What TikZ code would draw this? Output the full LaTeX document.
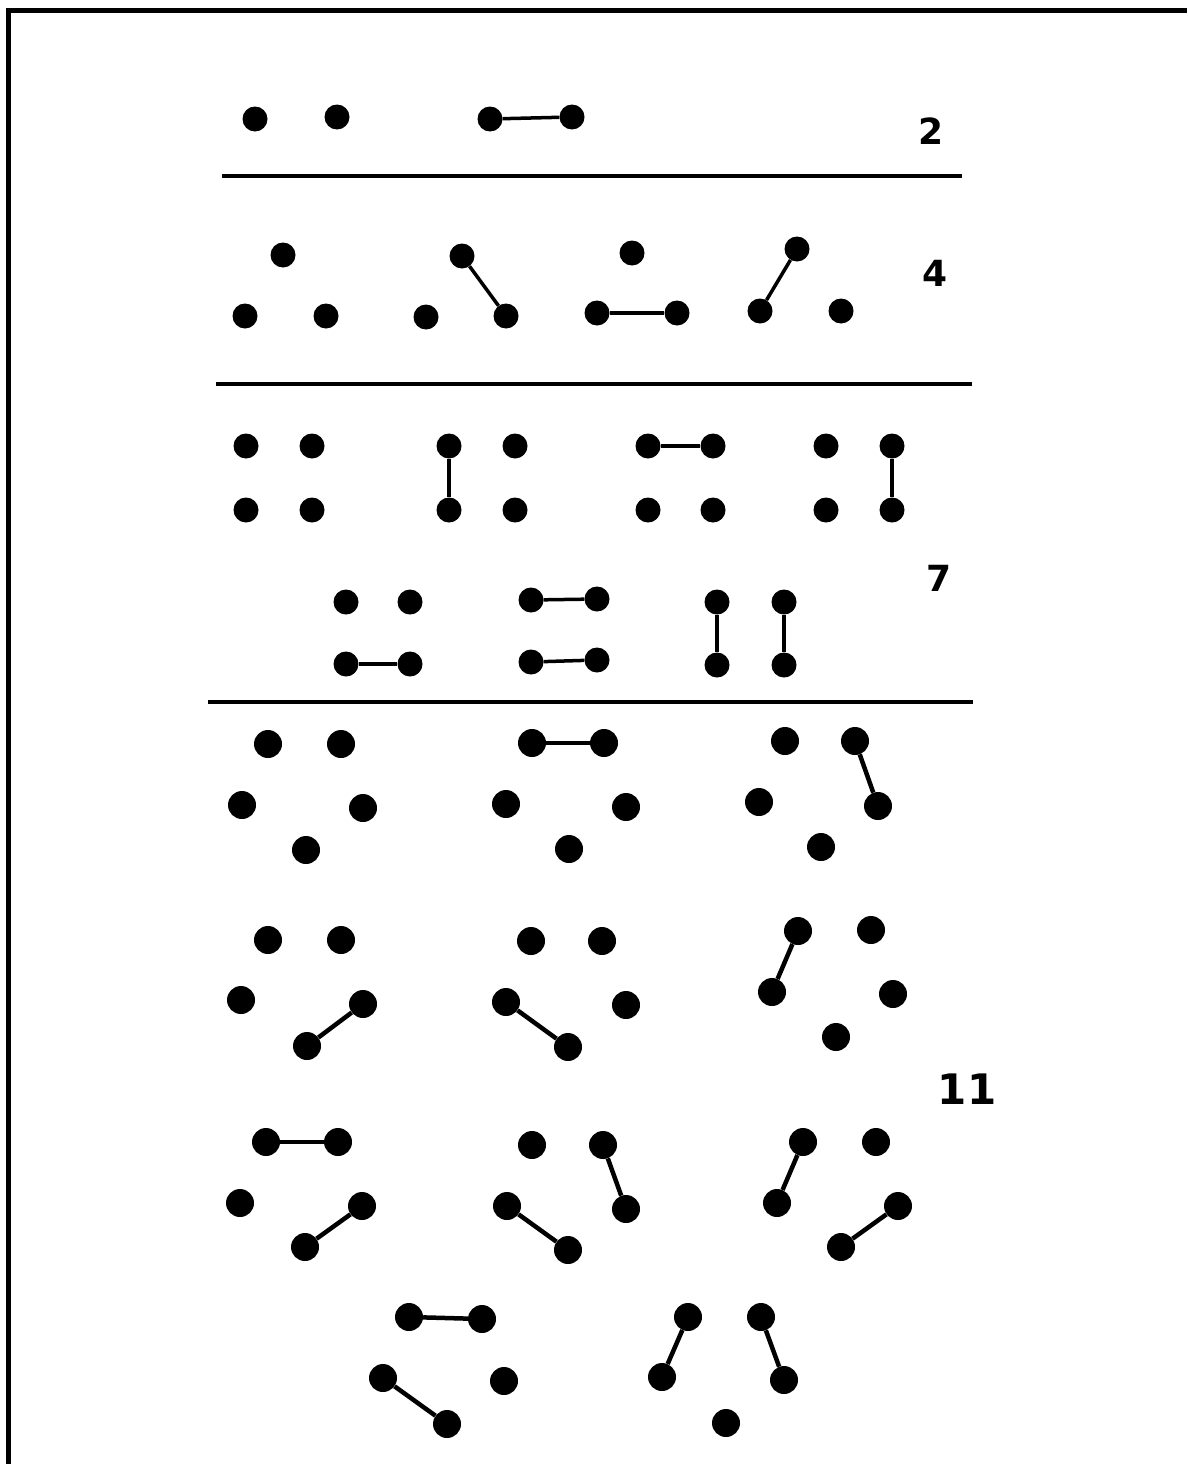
\documentclass[tikz,border=0pt]{standalone}
\usepackage{fontspec}
\setmainfont{DejaVu Sans}
\begin{document}
\begin{tikzpicture}[x=1pt,y=-1pt,
  dot/.style={circle,fill=black,inner sep=0pt,minimum size=25pt},
  bigdot/.style={circle,fill=black,inner sep=0pt,minimum size=28pt},
  edge/.style={line width=3.5pt},
  bigedge/.style={line width=4.5pt},
  rule/.style={line width=3.5pt},
  frame/.style={line width=5pt},
  lbl/.style={font=\fontsize{36}{40}\selectfont\bfseries,inner sep=0pt},
  biglbl/.style={font=\fontsize{42}{46}\selectfont\bfseries,inner sep=0pt}]
\useasboundingbox (0,0) rectangle (1187,1464);
% frame (top and left only)
\coordinate (fa) at (8,1464);
\coordinate (fb) at (8,11);
\coordinate (fc) at (1187,11);
\draw[frame] (fa) -- (fb) -- (fc);
% separators
\coordinate (s1a) at (222,176); \coordinate (s1b) at (962,176);
\coordinate (s2a) at (216,384); \coordinate (s2b) at (972,384);
\coordinate (s3a) at (208,702); \coordinate (s3b) at (973,702);
\draw[rule] (s1a) -- (s1b);
\draw[rule] (s2a) -- (s2b);
\draw[rule] (s3a) -- (s3b);
% labels
\node[lbl] (l2) at (931,131) {2};
\node[lbl] (l4) at (935,273) {4};
\node[lbl] (l7) at (939,578) {7};
\node[biglbl] (l11) at (967,1089) {11};
% row 1
\node[dot] (a1) at (255,119) {};
\node[dot] (a2) at (337,117) {};
\node[dot] (a3) at (490,119) {};
\node[dot] (a4) at (572,117) {};
\draw[edge] (a3) -- (a4);
% row 2
\node[dot] (b1) at (283,255) {};
\node[dot] (b2) at (245,316) {};
\node[dot] (b3) at (326,316) {};
\node[dot] (b4) at (462,256) {};
\node[dot] (b5) at (426,317) {};
\node[dot] (b6) at (506,316) {};
\draw[edge] (b4) -- (b6);
\node[dot] (b7) at (632,253) {};
\node[dot] (b8) at (597,313) {};
\node[dot] (b9) at (677,313) {};
\draw[edge] (b8) -- (b9);
\node[dot] (b10) at (797,249) {};
\node[dot] (b11) at (760,311) {};
\node[dot] (b12) at (841,311) {};
\draw[edge] (b10) -- (b11);
% row 3
\node[dot] (c1) at (246,446) {};
\node[dot] (c2) at (312,446) {};
\node[dot] (c3) at (246,510) {};
\node[dot] (c4) at (312,510) {};
\node[dot] (c5) at (449,446) {};
\node[dot] (c6) at (449,510) {};
\node[dot] (c7) at (515,446) {};
\node[dot] (c8) at (515,510) {};
\draw[edge] (c5) -- (c6);
\node[dot] (c9) at (648,446) {};
\node[dot] (c10) at (713,446) {};
\node[dot] (c11) at (648,510) {};
\node[dot] (c12) at (713,510) {};
\draw[edge] (c9) -- (c10);
\node[dot] (c13) at (826,446) {};
\node[dot] (c14) at (826,510) {};
\node[dot] (c15) at (892,446) {};
\node[dot] (c16) at (892,510) {};
\draw[edge] (c15) -- (c16);
\node[dot] (d1) at (346,602) {};
\node[dot] (d2) at (410,602) {};
\node[dot] (d3) at (346,664) {};
\node[dot] (d4) at (410,664) {};
\draw[edge] (d3) -- (d4);
\node[dot] (d5) at (531,600) {};
\node[dot] (d6) at (597,599) {};
\node[dot] (d7) at (531,662) {};
\node[dot] (d8) at (597,660) {};
\draw[edge] (d5) -- (d6);
\draw[edge] (d7) -- (d8);
\node[dot] (d9) at (717,602) {};
\node[dot] (d10) at (717,665) {};
\node[dot] (d11) at (784,602) {};
\node[dot] (d12) at (784,665) {};
\draw[edge] (d9) -- (d10);
\draw[edge] (d11) -- (d12);
% row 4 (pentagons)
% G1
\node[bigdot] (e1) at (268,744) {};
\node[bigdot] (e2) at (341,744) {};
\node[bigdot] (e3) at (242,805) {};
\node[bigdot] (e4) at (363,808) {};
\node[bigdot] (e5) at (306,850) {};
% G2
\node[bigdot] (f1) at (532,743) {};
\node[bigdot] (f2) at (604,743) {};
\node[bigdot] (f3) at (506,804) {};
\node[bigdot] (f4) at (626,807) {};
\node[bigdot] (f5) at (569,849) {};
\draw[bigedge] (f1) -- (f2);
% G3
\node[bigdot] (g1) at (785,741) {};
\node[bigdot] (g2) at (855,741) {};
\node[bigdot] (g3) at (759,802) {};
\node[bigdot] (g4) at (878,806) {};
\node[bigdot] (g5) at (821,847) {};
\draw[bigedge] (g2) -- (g4);
% G4
\node[bigdot] (h1) at (268,940) {};
\node[bigdot] (h2) at (341,940) {};
\node[bigdot] (h3) at (241,1000) {};
\node[bigdot] (h4) at (363,1004) {};
\node[bigdot] (h5) at (307,1046) {};
\draw[bigedge] (h4) -- (h5);
% G5
\node[bigdot] (i1) at (531,941) {};
\node[bigdot] (i2) at (602,941) {};
\node[bigdot] (i3) at (506,1002) {};
\node[bigdot] (i4) at (626,1005) {};
\node[bigdot] (i5) at (568,1047) {};
\draw[bigedge] (i3) -- (i5);
% G6
\node[bigdot] (j1) at (798,931) {};
\node[bigdot] (j2) at (871,930) {};
\node[bigdot] (j3) at (772,992) {};
\node[bigdot] (j4) at (893,994) {};
\node[bigdot] (j5) at (836,1037) {};
\draw[bigedge] (j1) -- (j3);
% G7
\node[bigdot] (k1) at (266,1142) {};
\node[bigdot] (k2) at (338,1142) {};
\node[bigdot] (k3) at (240,1203) {};
\node[bigdot] (k4) at (362,1206) {};
\node[bigdot] (k5) at (305,1247) {};
\draw[bigedge] (k1) -- (k2);
\draw[bigedge] (k4) -- (k5);
% G8
\node[bigdot] (m1) at (532,1145) {};
\node[bigdot] (m2) at (603,1145) {};
\node[bigdot] (m3) at (507,1206) {};
\node[bigdot] (m4) at (626,1209) {};
\node[bigdot] (m5) at (568,1250) {};
\draw[bigedge] (m2) -- (m4);
\draw[bigedge] (m3) -- (m5);
% G9
\node[bigdot] (n1) at (803,1142) {};
\node[bigdot] (n2) at (876,1142) {};
\node[bigdot] (n3) at (777,1203) {};
\node[bigdot] (n4) at (898,1206) {};
\node[bigdot] (n5) at (841,1247) {};
\draw[bigedge] (n1) -- (n3);
\draw[bigedge] (n4) -- (n5);
% G10
\node[bigdot] (p1) at (409,1317) {};
\node[bigdot] (p2) at (482,1319) {};
\node[bigdot] (p3) at (383,1378) {};
\node[bigdot] (p4) at (504,1381) {};
\node[bigdot] (p5) at (447,1424) {};
\draw[bigedge] (p1) -- (p2);
\draw[bigedge] (p3) -- (p5);
% G11
\node[bigdot] (q1) at (688,1317) {};
\node[bigdot] (q2) at (761,1317) {};
\node[bigdot] (q3) at (662,1377) {};
\node[bigdot] (q4) at (784,1380) {};
\node[bigdot] (q5) at (726,1423) {};
\draw[bigedge] (q1) -- (q3);
\draw[bigedge] (q2) -- (q4);
\end{tikzpicture}
\end{document}
